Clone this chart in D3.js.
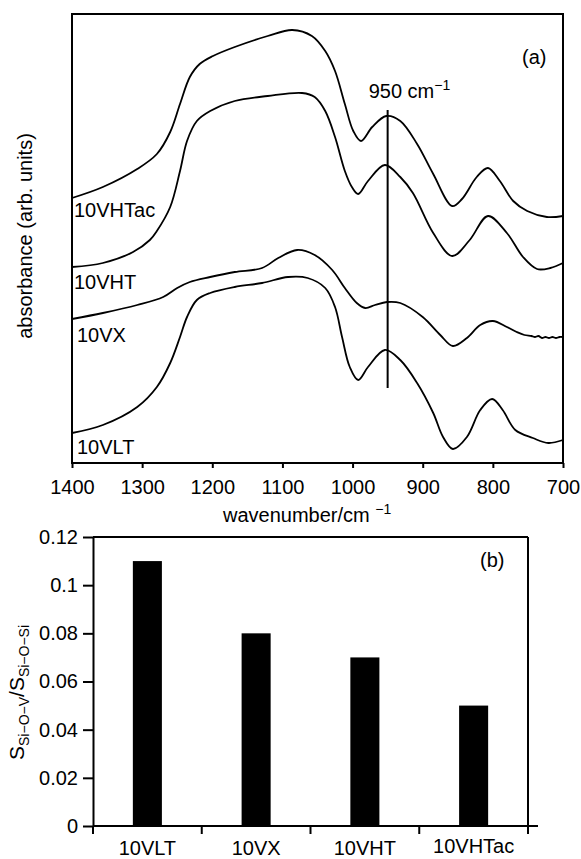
<!DOCTYPE html>
<html>
<head>
<meta charset="utf-8">
<script src="https://cdn.jsdelivr.net/npm/d3@7"></script>
<style>
  body { margin: 0; background: #fff; }
  svg { display: block; font-family: "Liberation Sans", Arial, sans-serif; }
</style>
</head>
<body>
<div id="chart"></div>
<script>
// spectra: [wavenumber, absorbance (arb. units, offset)]
var spec10VHTac = [[1400, 2.65], [1356, 2.76], [1307, 2.94], [1279, 3.09], [1260, 3.31], [1246, 3.59],
  [1232, 3.86], [1218, 3.99], [1199, 4.07], [1168, 4.16], [1121, 4.27], [1086, 4.33], [1058, 4.27],
  [1039, 4.12], [1025, 3.92], [1011, 3.59], [999, 3.32], [988, 3.22], [972, 3.36], [952, 3.47],
  [932, 3.42], [908, 3.19], [885, 2.89], [858, 2.57], [844, 2.64], [823, 2.86], [807, 2.95],
  [790, 2.82], [771, 2.62], [751, 2.52], [723, 2.46], [700, 2.47]];

var spec10VHT = [[1400, 1.96], [1356, 2.00], [1313, 2.11], [1289, 2.23], [1279, 2.32], [1260, 2.56],
  [1246, 2.92], [1236, 3.22], [1222, 3.42], [1203, 3.52], [1168, 3.62], [1121, 3.67], [1072, 3.70],
  [1054, 3.66], [1039, 3.52], [1025, 3.26], [1011, 2.92], [1001, 2.76], [992, 2.69], [978, 2.82],
  [954, 2.98], [932, 2.86], [914, 2.70], [885, 2.30], [858, 2.07], [833, 2.23], [807, 2.47],
  [780, 2.30], [757, 2.06], [737, 1.94], [718, 1.95], [700, 2.00]];

var spec10VX = [[1400, 1.44], [1356, 1.50], [1307, 1.58], [1270, 1.66], [1250, 1.75], [1232, 1.81],
  [1203, 1.86], [1168, 1.91], [1129, 1.95], [1106, 2.05], [1079, 2.13], [1054, 2.08], [1029, 1.93],
  [1011, 1.75], [994, 1.60], [982, 1.55], [968, 1.58], [951, 1.61], [932, 1.60], [900, 1.46],
  [875, 1.28], [857, 1.17], [837, 1.25], [818, 1.38], [800, 1.42], [780, 1.36], [766, 1.31],
  [755, 1.28], [745, 1.27], [740, 1.26], [735, 1.27], [730, 1.25], [725, 1.26], [720, 1.25],
  [715, 1.26], [710, 1.25], [705, 1.26], [700, 1.26]];

var spec10VLT = [[1400, 0.30], [1356, 0.38], [1307, 0.56], [1279, 0.76], [1260, 1.00], [1246, 1.26],
  [1236, 1.46], [1222, 1.63], [1203, 1.70], [1168, 1.76], [1129, 1.80], [1092, 1.86], [1064, 1.85],
  [1039, 1.75], [1025, 1.56], [1015, 1.26], [1004, 0.96], [992, 0.83], [978, 0.96], [954, 1.13],
  [932, 1.03], [908, 0.80], [885, 0.50], [871, 0.26], [857, 0.14], [837, 0.26], [818, 0.53],
  [801, 0.64], [786, 0.53], [768, 0.33], [743, 0.25], [721, 0.20], [700, 0.23]];

var specNames = ["10VHTac", "10VHT", "10VX", "10VLT"];
var wnTicks = [1400, 1300, 1200, 1100, 1000, 900, 800, 700];
var markerWn = 950;

// panel (b)
var barCategories = ["10VLT", "10VX", "10VHT", "10VHTac"];
var barValues = [0.11, 0.08, 0.07, 0.05];
var ratioTicks = [0, 0.02, 0.04, 0.06, 0.08, 0.1, 0.12];

var svgWidth = 581;
var svgHeight = 859;

var svg = d3.select("#chart")
  .append("svg")
  .attr("width", svgWidth)
  .attr("height", svgHeight);

// ---------- panel (a) ----------
var a = { left: 72, top: 14, right: 563, bottom: 463 };

var xWn = d3.scaleLinear().domain([1400, 700]).range([a.left, a.right]);
var yAbs = d3.scaleLinear().domain([0, 4.49]).range([a.bottom, a.top]);

svg.append("g")
  .attr("transform", `translate(0, ${a.bottom})`)
  .call(d3.axisBottom(xWn).tickValues(wnTicks).tickFormat(d3.format("d")).tickSize(5).tickPadding(12).tickSizeOuter(0))
  .call(g => g.select(".domain").remove())
  .call(g => g.selectAll("line").attr("stroke-width", 2))
  .call(g => g.selectAll("text").attr("font-size", 20).attr("font-family", "Liberation Sans, Arial, sans-serif").attr("fill", "#000"));

svg.append("rect")
  .attr("x", a.left).attr("y", a.top)
  .attr("width", a.right - a.left).attr("height", a.bottom - a.top)
  .attr("fill", "none").attr("stroke", "#000").attr("stroke-width", 2);

var line = d3.line()
  .x(d => xWn(d[0]))
  .y(d => yAbs(d[1]))
  .curve(d3.curveCatmullRom.alpha(0.5));

var specs = [spec10VHTac, spec10VHT, spec10VX, spec10VLT];
svg.selectAll(".spec")
  .data(specs)
  .enter().append("path")
  .attr("class", "spec")
  .attr("d", line)
  .attr("fill", "none")
  .attr("stroke", "#000")
  .attr("stroke-width", 1.8);

// sample labels sit just under each curve's left end
svg.selectAll(".specLabel")
  .data(specNames)
  .enter().append("text")
  .attr("class", "specLabel")
  .attr("x", (d, i) => i < 2 ? a.left + 2 : a.left + 5)
  .attr("y", (d, i) => yAbs(specs[i][0][1]) + [19, 22, 23, 21][i])
  .attr("font-size", 20)
  .text(d => d);

// 950 cm-1 marker
svg.append("line")
  .attr("x1", xWn(markerWn)).attr("x2", xWn(markerWn))
  .attr("y1", 110).attr("y2", 388)
  .attr("stroke", "#000").attr("stroke-width", 2);

var mk = svg.append("text")
  .attr("x", xWn(markerWn) - 19).attr("y", 98)
  .attr("font-size", 20);
mk.append("tspan").text("950 cm");
mk.append("tspan").attr("dy", -8).attr("font-size", 14).text("\u22121");

svg.append("text")
  .attr("x", 522).attr("y", 64)
  .attr("font-size", 20)
  .text("(a)");

var xl = svg.append("text")
  .attr("x", 223).attr("y", 522)
  .attr("font-size", 20);
xl.append("tspan").text("wavenumber/cm ");
xl.append("tspan").attr("dy", -8).attr("font-size", 14).text("\u22121");

svg.append("text")
  .attr("transform", "translate(32, 236) rotate(-90)")
  .attr("text-anchor", "middle")
  .attr("font-size", 20)
  .text("absorbance (arb. units)");

// ---------- panel (b) ----------
var b = { left: 93, top: 537, right: 528, bottom: 826 };

var xCat = d3.scaleBand()
  .domain(barCategories)
  .range([b.left, b.right])
  .paddingInner(0.733)
  .paddingOuter(0.3665);

var yRatio = d3.scaleLinear().domain([0, 0.12]).range([b.bottom, b.top]);

svg.append("g")
  .attr("transform", `translate(${b.left}, 0)`)
  .call(d3.axisLeft(yRatio).tickValues(ratioTicks).tickFormat(d => String(d)).tickSize(10).tickPadding(5).tickSizeOuter(0))
  .call(g => g.select(".domain").attr("stroke-width", 2))
  .call(g => g.selectAll("line").attr("stroke-width", 2))
  .call(g => g.selectAll("text").attr("font-size", 20).attr("font-family", "Liberation Sans, Arial, sans-serif").attr("fill", "#000"));

// top, right and bottom of the frame
svg.append("line")
  .attr("x1", b.left).attr("x2", b.right).attr("y1", b.top).attr("y2", b.top)
  .attr("stroke", "#000").attr("stroke-width", 2);
svg.append("line")
  .attr("x1", b.right).attr("x2", b.right).attr("y1", b.top).attr("y2", b.bottom + 8)
  .attr("stroke", "#000").attr("stroke-width", 2);
svg.append("line")
  .attr("x1", b.left).attr("x2", b.right + 10).attr("y1", b.bottom).attr("y2", b.bottom)
  .attr("stroke", "#000").attr("stroke-width", 2);

// category ticks at band boundaries
var bounds = barCategories.map(c => xCat(c) - xCat.step() * xCat.paddingInner() / 2);
bounds.push(b.right);
svg.selectAll(".catTick")
  .data(bounds)
  .enter().append("line")
  .attr("class", "catTick")
  .attr("x1", d => d).attr("x2", d => d)
  .attr("y1", b.bottom).attr("y2", b.bottom + 8)
  .attr("stroke", "#000").attr("stroke-width", 2);

svg.selectAll(".bar")
  .data(barValues)
  .enter().append("rect")
  .attr("class", "bar")
  .attr("x", (d, i) => xCat(barCategories[i]))
  .attr("y", d => yRatio(d))
  .attr("width", xCat.bandwidth())
  .attr("height", d => b.bottom - yRatio(d))
  .attr("fill", "#000");

svg.selectAll(".catLabel")
  .data(barCategories)
  .enter().append("text")
  .attr("class", "catLabel")
  .attr("x", d => xCat(d) + xCat.bandwidth() / 2)
  .attr("y", (d, i) => i === 3 ? 853 : 855)
  .attr("text-anchor", "middle")
  .attr("font-size", 20)
  .text(d => d);

svg.append("text")
  .attr("x", 480).attr("y", 567)
  .attr("font-size", 20)
  .text("(b)");

var yl = svg.append("text")
  .attr("transform", "translate(24, 760) rotate(-90)")
  .attr("font-size", 21);
yl.append("tspan").text("S");
yl.append("tspan").attr("dy", 5).attr("font-size", 14).text("Si\u2212O\u2212V");
yl.append("tspan").attr("dy", -5).text("/S");
yl.append("tspan").attr("dy", 5).attr("font-size", 14).text("Si\u2212O\u2212Si");
</script>
</body>
</html>
